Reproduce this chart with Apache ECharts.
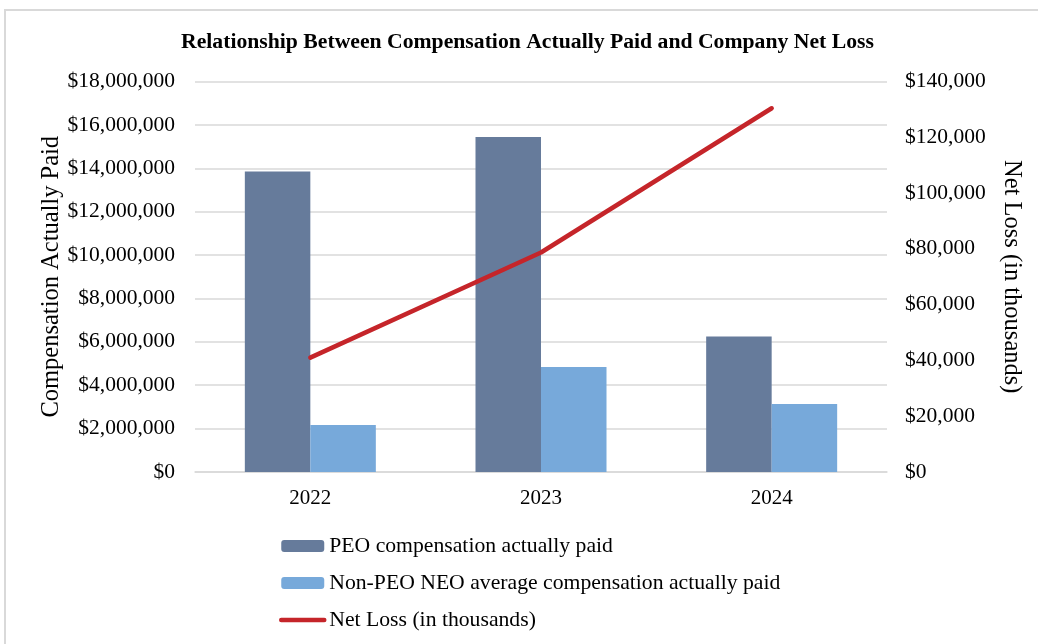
<!DOCTYPE html>
<html><head><meta charset="utf-8">
<script src="https://cdn.jsdelivr.net/npm/echarts@6/dist/echarts.min.js"></script>
<style>
html,body{margin:0;padding:0;background:#fff;overflow:hidden;}
#frame{position:absolute;left:4px;top:9px;width:1100px;height:700px;border-left:2px solid #d9d9d9;border-top:2px solid #d9d9d9;}
#c{position:absolute;left:0;top:0;width:1038px;height:644px;}
</style></head>
<body>
<div id="frame"></div>
<div id="c"></div>
<script>
const categories = ['2022', '2023', '2024'];
const peoComp = [13850000, 15440000, 6250000];
const nonPeoComp = [2170000, 4840000, 3130000];
const netLoss = [41000, 78700, 130400];
const leftTicks = { min: 0, max: 18000000, interval: 2000000 };
const rightTicks = { min: 0, max: 140000, interval: 20000 };

const font = 'Liberation Serif';
const fmtMoney = v => '$' + Math.round(v).toLocaleString('en-US');

const chart = echarts.init(document.getElementById('c'), null, { renderer: 'canvas' });
chart.setOption({
  backgroundColor: 'transparent',
  animation: false,
  title: {
    text: 'Relationship Between Compensation Actually Paid and Company Net Loss',
    left: 176, top: 26,
    textStyle: { fontFamily: font, fontWeight: 'bold', fontSize: 21.7, color: '#000' }
  },
  grid: { left: 195, right: 151, top: 81.5, bottom: 172, containLabel: false },
  legend: {
    orient: 'vertical', left: 274, top: 530, itemGap: 15,
    itemWidth: 43, itemHeight: 12,
    textStyle: { fontFamily: font, fontSize: 21.7, color: '#000' },
    data: [
      'PEO compensation actually paid',
      'Non-PEO NEO average compensation actually paid',
      { name: 'Net Loss (in thousands)', itemStyle: { opacity: 0 }, lineStyle: { width: 4.5, cap: 'round', color: '#c5252a' } }
    ]
  },
  xAxis: {
    type: 'category', data: categories,
    axisTick: { show: false },
    axisLine: { show: true, lineStyle: { color: '#d9d9d9', width: 1.5 } },
    axisLabel: { margin: 16, fontFamily: font, fontSize: 21, color: '#000' }
  },
  yAxis: [
    {
      type: 'value', min: leftTicks.min, max: leftTicks.max, interval: leftTicks.interval,
      name: 'Compensation Actually Paid', nameLocation: 'middle', nameGap: 131, nameRotate: 90,
      nameMoveOverlap: false,
      nameTextStyle: { fontFamily: font, fontSize: 24.5, color: '#000' },
      axisLine: { show: false }, axisTick: { show: false },
      axisLabel: { formatter: fmtMoney, fontFamily: font, fontSize: 21.5, color: '#000', margin: 20 },
      splitLine: { lineStyle: { color: '#d9d9d9', width: 1.5 } }
    },
    {
      type: 'value', min: rightTicks.min, max: rightTicks.max, interval: rightTicks.interval,
      name: 'Net Loss (in thousands)', nameLocation: 'middle', nameGap: 112, nameRotate: -90,
      nameMoveOverlap: false,
      nameTextStyle: { fontFamily: font, fontSize: 24.5, color: '#000' },
      axisLine: { show: false }, axisTick: { show: false },
      axisLabel: { formatter: fmtMoney, fontFamily: font, fontSize: 21.5, color: '#000', margin: 18 },
      splitLine: { show: false }
    }
  ],
  series: [
    {
      name: 'PEO compensation actually paid', type: 'bar', yAxisIndex: 0,
      barWidth: 65.5, barGap: '0%',
      itemStyle: { color: '#667b9b' },
      data: peoComp
    },
    {
      name: 'Non-PEO NEO average compensation actually paid', type: 'bar', yAxisIndex: 0,
      barWidth: 65.5, barGap: '0%',
      itemStyle: { color: '#77a9da' },
      data: nonPeoComp
    },
    {
      name: 'Net Loss (in thousands)', type: 'line', yAxisIndex: 1,
      symbol: 'none', showSymbol: false,
      lineStyle: { color: '#c5252a', width: 4.5, cap: 'round' },
      itemStyle: { color: '#c5252a' },
      data: netLoss
    }
  ]
});
</script>
</body></html>
